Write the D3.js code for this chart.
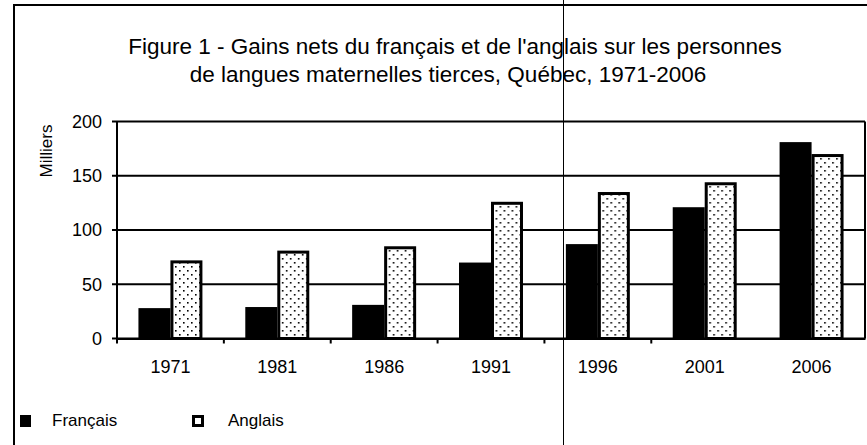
<!DOCTYPE html>
<html lang="fr">
<head>
    <meta charset="utf-8" />
    <title>Gains nets du français et de l'anglais</title>
    <script src="https://d3js.org/d3.v7.min.js"></script>
    <style>
        body { margin: 0; background: #fff; }
        svg text { font-family: Arial, "Liberation Sans", sans-serif; fill: #000; }
    </style>
</head>
<body>
    <svg></svg>
    <script>
        // data (milliers)
        let years = ["1971", "1981", "1986", "1991", "1996", "2001", "2006"];
        let seriesNames = ["Français", "Anglais"];
        let francais = [28, 29, 31, 70, 87, 121, 181];
        let anglais = [72, 81, 85, 126, 135, 144, 170];
        let yTicks = [0, 50, 100, 150, 200];

        let width = 867,
            height = 445;

        let svg = d3.select("svg").attr("width", width).attr("height", height);

        let margin = { top: 121.5, right: 2, bottom: 106.5, left: 117 };

        let x = d3.scaleBand()
            .domain(years)
            .range([margin.left, width - margin.right])
            .padding(0);

        let xInner = d3.scaleBand()
            .domain(seriesNames)
            .range([0, x.bandwidth()])
            .paddingInner(0)
            .paddingOuter(0.67);

        let y = d3.scaleLinear()
            .domain([0, 200])
            .range([height - margin.bottom, margin.top]);

        // dotted fill used by the "Anglais" bars
        let pattern = svg.append("defs")
            .append("pattern")
            .attr("id", "dots")
            .attr("patternUnits", "userSpaceOnUse")
            .attr("width", 8)
            .attr("height", 8);
        pattern.append("rect").attr("width", 8).attr("height", 8).attr("fill", "#fff");
        pattern.append("rect").attr("x", 2).attr("y", 2).attr("width", 1.6).attr("height", 1.6).attr("fill", "#000");
        pattern.append("rect").attr("x", 6).attr("y", 6).attr("width", 1.6).attr("height", 1.6).attr("fill", "#000");

        // outer frame of the scanned figure
        svg.append("rect")
            .attr("x", 14)
            .attr("y", 5)
            .attr("width", width + 20)
            .attr("height", height + 20)
            .attr("fill", "none")
            .attr("stroke", "#000")
            .attr("stroke-width", 2);

        // title
        let title = svg.append("text")
            .attr("text-anchor", "middle")
            .style("font-size", "22.5px");
        title.append("tspan")
            .attr("x", 455)
            .attr("y", 54)
            .text("Figure 1 - Gains nets du français et de l'anglais sur les personnes");
        title.append("tspan")
            .attr("x", 448)
            .attr("y", 82)
            .text("de langues maternelles tierces, Québec, 1971-2006");

        // gridlines
        svg.append("g")
            .selectAll("line")
            .data(yTicks)
            .enter()
            .append("line")
            .attr("x1", margin.left - 5)
            .attr("x2", width - margin.right)
            .attr("y1", (d) => y(d))
            .attr("y2", (d) => y(d))
            .attr("stroke", "#000")
            .attr("stroke-width", 2);

        // y axis labels
        svg.append("g")
            .selectAll("text")
            .data(yTicks)
            .enter()
            .append("text")
            .attr("x", margin.left - 15)
            .attr("y", (d) => y(d))
            .attr("dy", "0.36em")
            .attr("text-anchor", "end")
            .style("font-size", "18px")
            .text((d) => d);

        svg.append("text")
            .attr("transform", "translate(52,151) rotate(-90)")
            .attr("text-anchor", "middle")
            .style("font-size", "17px")
            .text("Milliers");

        // bars
        let groups = svg.append("g")
            .selectAll("g")
            .data(years)
            .enter()
            .append("g")
            .attr("transform", (d) => "translate(" + x(d) + ",0)");

        groups.append("rect")
            .attr("x", xInner("Français"))
            .attr("y", (d, i) => y(francais[i]))
            .attr("width", xInner.bandwidth())
            .attr("height", (d, i) => y(0) - y(francais[i]))
            .attr("fill", "#000");

        groups.append("rect")
            .attr("x", xInner("Anglais") + 1.5)
            .attr("y", (d, i) => y(anglais[i]) + 1.5)
            .attr("width", xInner.bandwidth() - 3)
            .attr("height", (d, i) => y(0) - y(anglais[i]) - 1.5)
            .attr("fill", "url(#dots)")
            .attr("stroke", "#000")
            .attr("stroke-width", 3);

        // plot box: left axis and right edge
        svg.append("line")
            .attr("x1", margin.left).attr("x2", margin.left)
            .attr("y1", y(200)).attr("y2", y(0))
            .attr("stroke", "#000").attr("stroke-width", 2);
        svg.append("line")
            .attr("x1", width - margin.right).attr("x2", width - margin.right)
            .attr("y1", y(200)).attr("y2", y(0))
            .attr("stroke", "#000").attr("stroke-width", 2);

        // x axis: ticks between categories and year labels
        let xAxis = d3.axisBottom(x).tickSize(0).tickPadding(22);
        let gx = svg.append("g")
            .attr("transform", "translate(0," + y(0) + ")")
            .call(xAxis);
        gx.select(".domain").attr("stroke", "#000").attr("stroke-width", 2);
        gx.selectAll("text").style("font-size", "18px").attr("font-family", null);

        gx.append("g")
            .selectAll("line")
            .data(years.slice(0, -1))
            .enter()
            .append("line")
            .attr("x1", (d) => x(d))
            .attr("x2", (d) => x(d))
            .attr("y1", 0)
            .attr("y2", 5)
            .attr("stroke", "#000")
            .attr("stroke-width", 2);

        // legend
        let legend = svg.append("g").attr("transform", "translate(20,415)");
        legend.append("rect")
            .attr("width", 11)
            .attr("height", 12)
            .attr("fill", "#000");
        legend.append("text")
            .attr("x", 32)
            .attr("y", 11)
            .style("font-size", "17px")
            .text(seriesNames[0]);
        legend.append("rect")
            .attr("x", 173.5)
            .attr("y", 1.5)
            .attr("width", 9)
            .attr("height", 9)
            .attr("fill", "#fff")
            .attr("stroke", "#000")
            .attr("stroke-width", 3);
        legend.append("text")
            .attr("x", 208)
            .attr("y", 11)
            .style("font-size", "17px")
            .text(seriesNames[1]);

        // scan artefact: thin vertical rule across the page
        svg.append("line")
            .attr("x1", 563.5).attr("x2", 563.5)
            .attr("y1", 0).attr("y2", height)
            .attr("stroke", "#000")
            .attr("stroke-width", 1);
    </script>
</body>
</html>
